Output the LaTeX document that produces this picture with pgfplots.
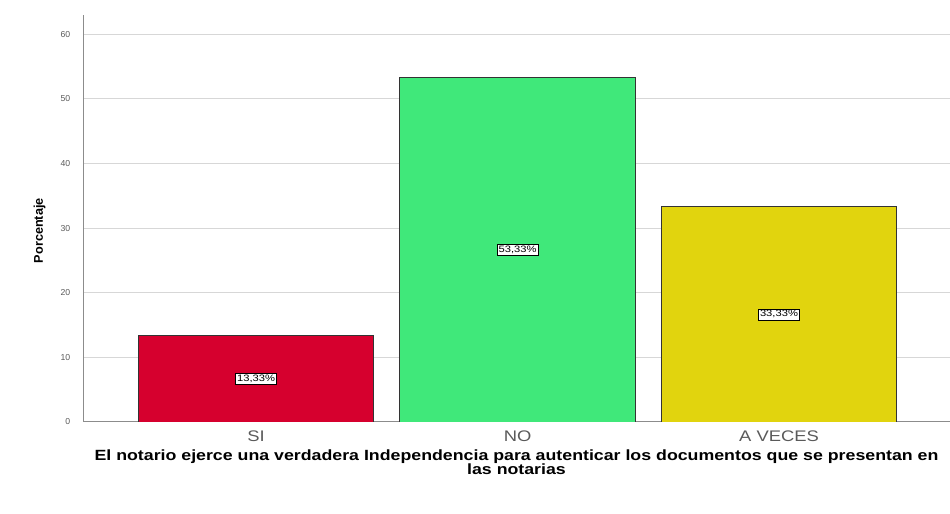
\documentclass[border=0pt]{standalone}
\usepackage{pgfplots}
\pgfplotsset{compat=1.18}
\usepackage{fontspec}
\setmainfont{Liberation Sans}
\newfontfamily\wide[FakeStretch=1.2]{Liberation Sans}

\definecolor{barred}{RGB}{214,0,46}
\definecolor{bargreen}{RGB}{64,232,122}
\definecolor{baryellow}{RGB}{225,212,14}
\definecolor{gridgray}{RGB}{215,215,215}
\definecolor{axgray}{RGB}{140,140,140}
\definecolor{txtgray}{RGB}{90,90,90}

\begin{document}
\begin{tikzpicture}
    \useasboundingbox (0,0) rectangle (712.5pt,385.5pt);
    \begin{axis}[
        at = {(62.25pt,69pt)},
        anchor = south west,
        scale only axis,
        width  = 650.25pt,
        height = 305.25pt,
        ybar,
        bar width = 0.9,
        xmin = -0.662, xmax = 2.654,
        ymin = 0, ymax = 63,
        xtick = {0,1,2},
        xticklabels = {SI, NO, A VECES},
        ytick = {0,10,...,60},
        axis x line* = bottom,
        axis y line* = left,
        axis line style = {axgray, line width=0.75pt},
        major tick length = 0pt,
        ymajorgrids = true,
        grid style = {gridgray, line width=0.75pt},
        x tick label style = {font=\wide\fontsize{11.5}{12}\selectfont, text=txtgray, yshift=-3pt},
        y tick label style = {font=\fontsize{6.5}{8}\selectfont, text=txtgray, xshift=-6pt},
        /pgf/number format/assume math mode=true,
        ylabel = {Porcentaje},
        every axis y label/.style = {at={(axis description cs:-0.05,0.47)}, rotate=90, anchor=center,
            font=\fontsize{9.5}{11}\selectfont\bfseries},
        xlabel = {El notario ejerce una verdadera Independencia para autenticar los documentos que se presentan en\\las notarias},
        every axis x label/.style = {at={(axis description cs:0.5,0)}, anchor=north, yshift=-17pt,
            align=center, font=\wide\fontsize{11.1}{10.5}\selectfont\bfseries},
        point meta = y,
        visualization depends on = {rawy \as \rawy},
        nodes near coords = {\pgfmathprintnumber[fixed,precision=2,fixed zerofill,use comma]{\pgfplotspointmeta}\%},
        every node near coord/.append style = {
            anchor=center, shift={(axis direction cs:0,-0.5*\rawy)},
            font=\wide\fontsize{7}{8}\selectfont, fill=white, draw=black, line width=0.4pt,
            inner sep=1.2pt},
    ]
        \addplot[bar shift=0pt, fill=barred, draw=black!80, line width=0.6pt]
            coordinates {(0, 13.33)};
        \addplot[bar shift=0pt, fill=bargreen, draw=black!80, line width=0.6pt]
            coordinates {(1, 53.33)};
        \addplot[bar shift=0pt, fill=baryellow, draw=black!80, line width=0.6pt]
            coordinates {(2, 33.33)};
    \end{axis}
\end{tikzpicture}
\end{document}
